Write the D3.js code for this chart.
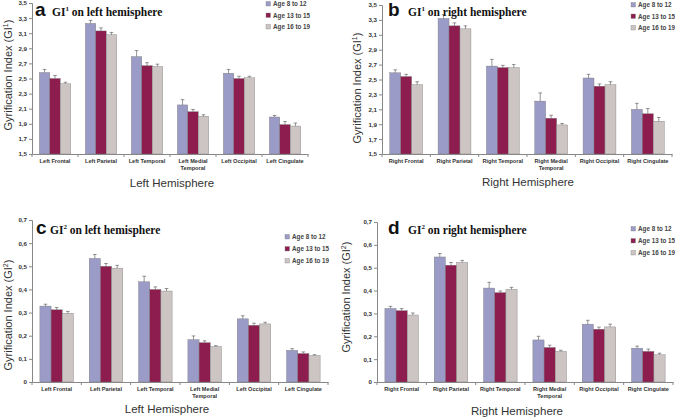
<!DOCTYPE html>
<html><head><meta charset="utf-8">
<script src="https://cdn.jsdelivr.net/npm/d3@7"></script>
<style>body{margin:0;background:#fff}svg{display:block}</style>
</head><body>
<script>
const seriesNames = ["Age 8 to 12", "Age 13 to 15", "Age 16 to 19"];
const leftCats = [["Left Frontal"], ["Left Parietal"], ["Left Temporal"], ["Left Medial", "Temporal"], ["Left Occipital"], ["Left Cingulate"]];
const rightCats = [["Right Frontal"], ["Right Parietal"], ["Right Temporal"], ["Right Medial", "Temporal"], ["Right Occipital"], ["Right Cingulate"]];
const ticksGI1 = [1.5, 1.7, 1.9, 2.1, 2.3, 2.5, 2.7, 2.9, 3.1, 3.3, 3.5];
const ticksGI2 = [0, 0.1, 0.2, 0.3, 0.4, 0.5, 0.6, 0.7];

// Panel a: GI1 left hemisphere (mean per series, per region)
const aAge8 = [2.58, 3.23, 2.79, 2.15, 2.57, 1.99];
const aAge13 = [2.50, 3.13, 2.67, 2.06, 2.50, 1.89];
const aAge16 = [2.43, 3.08, 2.66, 2.00, 2.51, 1.87];
const aErr8 = [0.04, 0.04, 0.08, 0.07, 0.05, 0.02];
const aErr13 = [0.04, 0.04, 0.04, 0.03, 0.03, 0.04];
const aErr16 = [0.02, 0.03, 0.03, 0.02, 0.02, 0.04];
// Panel b: GI1 right hemisphere
const bAge8 = [2.59, 3.32, 2.68, 2.21, 2.52, 2.10];
const bAge13 = [2.54, 3.22, 2.66, 1.98, 2.41, 2.04];
const bAge16 = [2.43, 3.18, 2.66, 1.89, 2.43, 1.94];
const bErr8 = [0.04, 0.05, 0.09, 0.11, 0.05, 0.08];
const bErr13 = [0.03, 0.04, 0.03, 0.04, 0.03, 0.07];
const bErr16 = [0.04, 0.04, 0.04, 0.02, 0.04, 0.05];
// Panel c: GI2 left hemisphere
const cAge8 = [0.328, 0.534, 0.433, 0.183, 0.273, 0.137];
const cAge13 = [0.312, 0.500, 0.400, 0.170, 0.245, 0.123];
const cAge16 = [0.297, 0.492, 0.393, 0.153, 0.251, 0.114];
const cErr8 = [0.008, 0.017, 0.024, 0.016, 0.013, 0.007];
const cErr13 = [0.010, 0.012, 0.011, 0.008, 0.009, 0.007];
const cErr16 = [0.008, 0.012, 0.011, 0.004, 0.007, 0.004];
// Panel d: GI2 right hemisphere
const dAge8 = [0.322, 0.547, 0.411, 0.184, 0.253, 0.148];
const dAge13 = [0.312, 0.511, 0.391, 0.151, 0.231, 0.134];
const dAge16 = [0.293, 0.523, 0.405, 0.134, 0.241, 0.119];
const dErr8 = [0.009, 0.015, 0.025, 0.016, 0.017, 0.009];
const dErr13 = [0.009, 0.012, 0.007, 0.010, 0.009, 0.010];
const dErr16 = [0.009, 0.009, 0.009, 0.005, 0.012, 0.007];

const colors = ["#9b9bc8", "#8c1d4e", "#cdc5c3"];
const W = 675, H = 418;
const svg = d3.select("body").append("svg").attr("width", W).attr("height", H);

const fmt = v => (v === 0 ? "0" : d3.format(".1f")(v).replace(".", ","));

function panel(o) {
  const g = svg.append("g");
  const y = d3.scaleLinear().domain(o.domain).range([o.bottom, o.top]);
  const x0 = d3.scaleBand().domain(d3.range(o.cats.length)).range([o.left, o.right]).paddingInner(0.32).paddingOuter(0.16);
  const x1 = d3.scaleBand().domain(d3.range(3)).range([0, x0.bandwidth()]);
  const series = [o.s0, o.s1, o.s2];
  const errs = [o.e0, o.e1, o.e2];

  // y axis
  const ya = d3.axisLeft(y).tickValues(o.ticks).tickFormat(fmt).tickSize(3).tickPadding(2);
  const yg = g.append("g").attr("transform", `translate(${o.left},0)`).call(ya);
  yg.select(".domain").attr("stroke", "#888");
  yg.selectAll(".tick line").attr("stroke", "#888");
  yg.selectAll("text").attr("font-family", "Liberation Sans, Arial, sans-serif").attr("font-size", 6.2).attr("font-weight", "bold").attr("fill", "#333");

  // bars
  series.forEach((s, si) => {
    g.append("g").selectAll("rect").data(s).join("rect")
      .attr("x", (d, i) => x0(i) + x1(si))
      .attr("y", d => y(d))
      .attr("width", x1.bandwidth())
      .attr("height", d => o.bottom - y(d))
      .attr("fill", colors[si])
      .attr("stroke", "#7a7a7a").attr("stroke-width", 0.4);
    // error bars
    const eg = g.append("g").attr("stroke", "#666").attr("stroke-width", 0.7);
    s.forEach((d, i) => {
      const cx = x0(i) + x1(si) + x1.bandwidth() / 2;
      eg.append("line").attr("x1", cx).attr("x2", cx).attr("y1", y(d)).attr("y2", y(d + errs[si][i]));
      eg.append("line").attr("x1", cx - 1.8).attr("x2", cx + 1.8).attr("y1", y(d + errs[si][i])).attr("y2", y(d + errs[si][i]));
    });
  });

  // x axis line
  const xa = d3.axisBottom(x0).tickSize(0).tickFormat("");
  const xg = g.append("g").attr("transform", `translate(0,${o.bottom})`).call(xa);
  xg.select(".domain").attr("stroke", "#888");
  const bounds = d3.range(o.cats.length + 1).map(i => o.left + (o.right - o.left) * i / o.cats.length);
  g.append("g").selectAll("line").data(bounds).join("line")
    .attr("x1", d => d).attr("x2", d => d).attr("y1", o.bottom).attr("y2", o.bottom + 3).attr("stroke", "#888");

  // category labels
  o.cats.forEach((lines, i) => {
    const t = g.append("text").attr("text-anchor", "middle")
      .attr("font-family", "Liberation Sans, Arial, sans-serif").attr("font-size", 5.6).attr("font-weight", "bold").attr("fill", "#333");
    lines.forEach((ln, li) => {
      t.append("tspan").attr("x", x0(i) + x0.bandwidth() / 2).attr("y", o.bottom + 9 + li * 7).text(ln);
    });
  });

  // x title
  g.append("text").attr("x", o.xTitleX).attr("y", o.xTitleY).attr("text-anchor", "middle")
    .attr("font-family", "Liberation Sans, Arial, sans-serif").attr("font-size", 11.5).attr("fill", "#333").text(o.xTitle);

  // y title
  const yt = g.append("text").attr("transform", `translate(${o.yTitleX},${o.yTitleY}) rotate(-90)`).attr("text-anchor", "middle")
    .attr("font-family", "Liberation Sans, Arial, sans-serif").attr("font-size", 11).attr("fill", "#333");
  yt.append("tspan").text("Gyrification Index (GI");
  yt.append("tspan").attr("dy", -4).attr("font-size", 7).text(o.sup);
  yt.append("tspan").attr("dy", 4).text(")");

  // panel title
  g.append("text").attr("x", o.titleX).attr("y", o.titleY)
    .attr("font-family", "Liberation Sans, Arial, sans-serif").attr("font-size", 19).attr("font-weight", "bold").attr("fill", "#111").text(o.letter);
  const tt = g.append("text").attr("x", o.titleX + o.letterW).attr("y", o.titleY)
    .attr("font-family", "Liberation Serif, Times New Roman, serif").attr("font-size", 11.5).attr("font-weight", "bold").attr("fill", "#111");
  tt.append("tspan").text("GI");
  tt.append("tspan").attr("dy", -5).attr("font-size", 7).text(o.sup);
  tt.append("tspan").attr("dy", 5).text(" " + o.title);

  // legend
  seriesNames.forEach((n, i) => {
    const ly = o.legY + i * o.legStep;
    g.append("rect").attr("x", o.legX).attr("y", ly - 2.5).attr("width", 4.5).attr("height", 4.5)
      .attr("fill", colors[i]).attr("stroke", "#888").attr("stroke-width", 0.4);
    g.append("text").attr("x", o.legX + 7).attr("y", ly + 2)
      .attr("font-family", "Liberation Sans, Arial, sans-serif").attr("font-size", 6.3).attr("font-weight", "bold").attr("fill", "#444").text(n);
  });
}

panel({ domain: [1.5, 3.5], ticks: ticksGI1, top: 3, bottom: 154, left: 32, right: 308,
  cats: leftCats, s0: aAge8, s1: aAge13, s2: aAge16, e0: aErr8, e1: aErr13, e2: aErr16,
  xTitle: "Left Hemisphere", xTitleX: 172, xTitleY: 187, yTitleX: 12, yTitleY: 75, sup: "1",
  letter: "a", titleX: 35, titleY: 16, letterW: 17, title: "on left hemisphere",
  legX: 266, legY: 4, legStep: 11.5 });

panel({ domain: [1.5, 3.5], ticks: ticksGI1, top: 5, bottom: 154, left: 382, right: 672,
  cats: rightCats, s0: bAge8, s1: bAge13, s2: bAge16, e0: bErr8, e1: bErr13, e2: bErr16,
  xTitle: "Right Hemisphere", xTitleX: 528, xTitleY: 186, yTitleX: 361, yTitleY: 88, sup: "1",
  letter: "b", titleX: 388, titleY: 16, letterW: 20, title: "on right hemisphere",
  legX: 631, legY: 5, legStep: 11.5 });

panel({ domain: [0, 0.7], ticks: ticksGI2, top: 220, bottom: 382, left: 32, right: 328,
  cats: leftCats, s0: cAge8, s1: cAge13, s2: cAge16, e0: cErr8, e1: cErr13, e2: cErr16,
  xTitle: "Left Hemisphere", xTitleX: 167, xTitleY: 413, yTitleX: 12, yTitleY: 315, sup: "2",
  letter: "c", titleX: 36, titleY: 234, letterW: 14, title: "on left hemisphere",
  legX: 285, legY: 237, legStep: 12 });

panel({ domain: [0, 0.7], ticks: ticksGI2, top: 222, bottom: 382, left: 377, right: 673,
  cats: rightCats, s0: dAge8, s1: dAge13, s2: dAge16, e0: dErr8, e1: dErr13, e2: dErr16,
  xTitle: "Right Hemisphere", xTitleX: 517, xTitleY: 415, yTitleX: 350, yTitleY: 297, sup: "2",
  letter: "d", titleX: 388, titleY: 234, letterW: 20, title: "on right hemisphere",
  legX: 631, legY: 229, legStep: 12 });
</script>
</body></html>
